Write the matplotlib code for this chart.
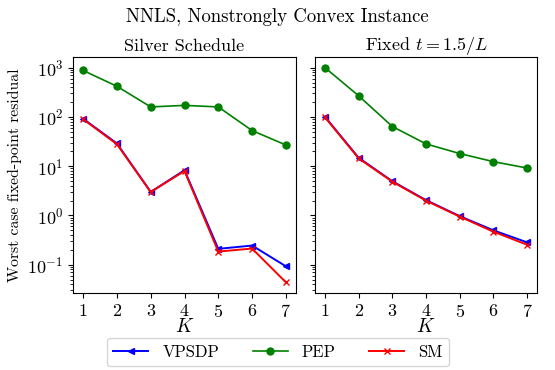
import matplotlib
matplotlib.use("Agg")
import matplotlib.pyplot as plt

plt.rcParams['font.family'] = 'serif'
plt.rcParams['font.serif'] = ['cmr10', 'DejaVu Serif']
plt.rcParams['mathtext.fontset'] = 'cm'
plt.rcParams['axes.formatter.use_mathtext'] = True
plt.rcParams['axes.unicode_minus'] = True

K = [1, 2, 3, 4, 5, 6, 7]

silver_vpsdp = [92, 29, 3.0, 8.3, 0.21, 0.245, 0.093]
silver_pep = [880, 420, 160, 172, 160, 53, 27]
silver_sm = [90, 28, 3.0, 8.0, 0.185, 0.213, 0.044]

fixed_vpsdp = [100, 14.8, 4.95, 2.05, 0.97, 0.50, 0.285]
fixed_pep = [1000, 268, 64, 28.4, 18.1, 12.4, 9.2]
fixed_sm = [98, 14.4, 4.85, 2.0, 0.95, 0.47, 0.255]

titles = ["Silver Schedule", r"Fixed $t = 1.5/L$"]
suptitle = "NNLS, Nonstrongly Convex Instance"

fig = plt.figure(figsize=(5.55, 3.7), dpi=100)
ax1 = fig.add_axes([73/555, 1-293/370, 223/555, 236/370])
ax2 = fig.add_axes([315/555, 1-293/370, 222/555, 236/370], sharey=ax1)

for ax, v, p, s, t in [(ax1, silver_vpsdp, silver_pep, silver_sm, titles[0]),
                       (ax2, fixed_vpsdp, fixed_pep, fixed_sm, titles[1])]:
    ax.plot(K, v, color='blue', marker='<', markersize=5, lw=1.4, label='VPSDP')
    ax.plot(K, p, color='green', marker='o', markersize=5, lw=1.2, label='PEP')
    ax.plot(K, s, color='red', marker='x', markersize=5, lw=1.4, label='SM')
    ax.set_yscale('log')
    ax.set_xticks(K)
    ax.set_xlabel(r'$K$', fontsize=14, labelpad=-1)
    ax.set_title(t, fontsize=13, pad=4)
    ax.tick_params(labelsize=13)

ax1.set_ylabel('Worst case fixed-point residual', fontsize=11.3)
plt.setp(ax2.get_yticklabels(), visible=False)

fig.suptitle(suptitle, fontsize=13.5, y=0.978)
handles, labels = ax1.get_legend_handles_labels()
fig.legend(handles, labels, loc='center', bbox_to_anchor=(278/555, 1-352/370),
           ncol=3, fontsize=12, handlelength=2.1, handletextpad=0.85,
           columnspacing=2.0)

fig.savefig('out.png', dpi=100)
